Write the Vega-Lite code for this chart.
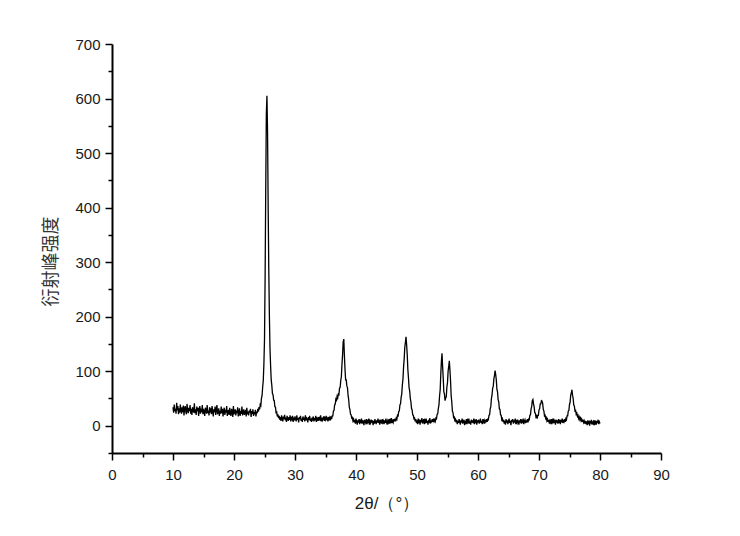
{
"$schema": "https://vega.github.io/schema/vega-lite/v6.json",
"width": 549, "height": 409,
"autosize": {"type": "none"},
"padding": {"left": 112, "top": 44, "right": 79, "bottom": 83},
"background": "white",
"config": {"view": {"stroke": null}, "font": "Liberation Sans"},
"data": {"values": [
{"t":10.0,"i":34},{"t":10.1,"i":24},{"t":10.2,"i":39},{"t":10.3,"i":27},{"t":10.4,"i":31},{"t":10.5,"i":22},{"t":10.6,"i":42},{"t":10.7,"i":28},{"t":10.8,"i":36},{"t":10.9,"i":21},
{"t":11.0,"i":32},{"t":11.1,"i":24},{"t":11.2,"i":39},{"t":11.3,"i":28},{"t":11.4,"i":22},{"t":11.5,"i":34},{"t":11.6,"i":25},{"t":11.7,"i":37},{"t":11.8,"i":19},{"t":11.9,"i":31},
{"t":12.0,"i":36},{"t":12.1,"i":26},{"t":12.2,"i":21},{"t":12.3,"i":40},{"t":12.4,"i":29},{"t":12.5,"i":23},{"t":12.6,"i":33},{"t":12.7,"i":27},{"t":12.8,"i":38},{"t":12.9,"i":22},
{"t":13.0,"i":31},{"t":13.1,"i":20},{"t":13.2,"i":34},{"t":13.3,"i":29},{"t":13.4,"i":24},{"t":13.5,"i":41},{"t":13.6,"i":23},{"t":13.7,"i":30},{"t":13.8,"i":20},{"t":13.9,"i":35},
{"t":14.0,"i":27},{"t":14.1,"i":33},{"t":14.2,"i":18},{"t":14.3,"i":31},{"t":14.4,"i":36},{"t":14.5,"i":22},{"t":14.6,"i":28},{"t":14.7,"i":25},{"t":14.8,"i":38},{"t":14.9,"i":21},
{"t":15.0,"i":31},{"t":15.1,"i":25},{"t":15.2,"i":18},{"t":15.3,"i":33},{"t":15.4,"i":29},{"t":15.5,"i":22},{"t":15.6,"i":38},{"t":15.7,"i":23},{"t":15.8,"i":28},{"t":15.9,"i":19},
{"t":16.0,"i":34},{"t":16.1,"i":24},{"t":16.2,"i":32},{"t":16.3,"i":21},{"t":16.4,"i":36},{"t":16.5,"i":27},{"t":16.6,"i":17},{"t":16.7,"i":30},{"t":16.8,"i":25},{"t":16.9,"i":35},
{"t":17.0,"i":20},{"t":17.1,"i":30},{"t":17.2,"i":38},{"t":17.3,"i":21},{"t":17.4,"i":25},{"t":17.5,"i":32},{"t":17.6,"i":18},{"t":17.7,"i":28},{"t":17.8,"i":22},{"t":17.9,"i":35},
{"t":18.0,"i":23},{"t":18.1,"i":31},{"t":18.2,"i":17},{"t":18.3,"i":27},{"t":18.4,"i":33},{"t":18.5,"i":20},{"t":18.6,"i":29},{"t":18.7,"i":24},{"t":18.8,"i":36},{"t":18.9,"i":18},
{"t":19.0,"i":26},{"t":19.1,"i":29},{"t":19.2,"i":20},{"t":19.3,"i":33},{"t":19.4,"i":22},{"t":19.5,"i":18},{"t":19.6,"i":31},{"t":19.7,"i":27},{"t":19.8,"i":16},{"t":19.9,"i":36},
{"t":20.0,"i":21},{"t":20.1,"i":26},{"t":20.2,"i":30},{"t":20.3,"i":19},{"t":20.4,"i":28},{"t":20.5,"i":23},{"t":20.6,"i":34},{"t":20.7,"i":17},{"t":20.8,"i":24},{"t":20.9,"i":32},
{"t":21.0,"i":18},{"t":21.1,"i":27},{"t":21.2,"i":22},{"t":21.3,"i":35},{"t":21.4,"i":19},{"t":21.5,"i":25},{"t":21.6,"i":30},{"t":21.7,"i":20},{"t":21.8,"i":23},{"t":21.9,"i":29},
{"t":22.0,"i":17},{"t":22.1,"i":33},{"t":22.2,"i":21},{"t":22.3,"i":26},{"t":22.4,"i":19},{"t":22.5,"i":28},{"t":22.6,"i":24},{"t":22.7,"i":31},{"t":22.8,"i":16},{"t":22.9,"i":27},
{"t":23.0,"i":22},{"t":23.1,"i":30},{"t":23.2,"i":18},{"t":23.3,"i":25},{"t":23.4,"i":21},{"t":23.5,"i":29},{"t":23.6,"i":17},{"t":23.7,"i":26},{"t":23.8,"i":23},{"t":23.9,"i":31},
{"t":24.0,"i":26},{"t":24.1,"i":34},{"t":24.2,"i":30},{"t":24.3,"i":39},{"t":24.4,"i":37},{"t":24.5,"i":50},{"t":24.6,"i":55},{"t":24.7,"i":71},{"t":24.8,"i":83},{"t":24.9,"i":113},
{"t":25.0,"i":158},{"t":25.1,"i":272},{"t":25.2,"i":428},{"t":25.3,"i":572},{"t":25.4,"i":605},{"t":25.5,"i":538},{"t":25.6,"i":402},{"t":25.7,"i":288},{"t":25.8,"i":203},{"t":25.9,"i":142},
{"t":26.0,"i":110},{"t":26.1,"i":84},{"t":26.2,"i":74},{"t":26.3,"i":59},{"t":26.4,"i":57},{"t":26.5,"i":47},{"t":26.6,"i":46},{"t":26.7,"i":35},{"t":26.8,"i":34},{"t":26.9,"i":24},
{"t":27.0,"i":25},{"t":27.1,"i":17},{"t":27.2,"i":21},{"t":27.3,"i":14},{"t":27.4,"i":18},{"t":27.5,"i":11},{"t":27.6,"i":16},{"t":27.7,"i":9},{"t":27.8,"i":19},{"t":27.9,"i":13},
{"t":28.0,"i":8},{"t":28.1,"i":17},{"t":28.2,"i":12},{"t":28.3,"i":20},{"t":28.4,"i":10},{"t":28.5,"i":15},{"t":28.6,"i":7},{"t":28.7,"i":18},{"t":28.8,"i":13},{"t":28.9,"i":9},
{"t":29.0,"i":16},{"t":29.1,"i":11},{"t":29.2,"i":19},{"t":29.3,"i":8},{"t":29.4,"i":14},{"t":29.5,"i":12},{"t":29.6,"i":18},{"t":29.7,"i":7},{"t":29.8,"i":15},{"t":29.9,"i":10},
{"t":30.0,"i":17},{"t":30.1,"i":12},{"t":30.2,"i":8},{"t":30.3,"i":19},{"t":30.4,"i":11},{"t":30.5,"i":14},{"t":30.6,"i":6},{"t":30.7,"i":16},{"t":30.8,"i":12},{"t":30.9,"i":18},
{"t":31.0,"i":9},{"t":31.1,"i":13},{"t":31.2,"i":7},{"t":31.3,"i":17},{"t":31.4,"i":11},{"t":31.5,"i":15},{"t":31.6,"i":8},{"t":31.7,"i":19},{"t":31.8,"i":10},{"t":31.9,"i":14},
{"t":32.0,"i":12},{"t":32.1,"i":6},{"t":32.2,"i":16},{"t":32.3,"i":11},{"t":32.4,"i":18},{"t":32.5,"i":9},{"t":32.6,"i":13},{"t":32.7,"i":7},{"t":32.8,"i":15},{"t":32.9,"i":12},
{"t":33.0,"i":17},{"t":33.1,"i":8},{"t":33.2,"i":14},{"t":33.3,"i":10},{"t":33.4,"i":18},{"t":33.5,"i":7},{"t":33.6,"i":13},{"t":33.7,"i":11},{"t":33.8,"i":16},{"t":33.9,"i":9},
{"t":34.0,"i":14},{"t":34.1,"i":12},{"t":34.2,"i":19},{"t":34.3,"i":8},{"t":34.4,"i":15},{"t":34.5,"i":10},{"t":34.6,"i":13},{"t":34.7,"i":17},{"t":34.8,"i":9},{"t":34.9,"i":14},
{"t":35.0,"i":11},{"t":35.1,"i":18},{"t":35.2,"i":10},{"t":35.3,"i":13},{"t":35.4,"i":8},{"t":35.5,"i":16},{"t":35.6,"i":12},{"t":35.7,"i":15},{"t":35.8,"i":10},{"t":35.9,"i":17},
{"t":36.0,"i":12},{"t":36.1,"i":18},{"t":36.2,"i":18},{"t":36.3,"i":27},{"t":36.4,"i":28},{"t":36.5,"i":38},{"t":36.6,"i":40},{"t":36.7,"i":49},{"t":36.8,"i":47},{"t":36.9,"i":54},
{"t":37.0,"i":51},{"t":37.1,"i":58},{"t":37.2,"i":57},{"t":37.3,"i":69},{"t":37.4,"i":70},{"t":37.5,"i":83},{"t":37.6,"i":90},{"t":37.7,"i":113},{"t":37.8,"i":130},{"t":37.9,"i":154},
{"t":38.0,"i":159},{"t":38.1,"i":128},{"t":38.2,"i":103},{"t":38.3,"i":84},{"t":38.4,"i":84},{"t":38.5,"i":73},{"t":38.6,"i":70},{"t":38.7,"i":56},{"t":38.8,"i":48},{"t":38.9,"i":34},
{"t":39.0,"i":30},{"t":39.1,"i":21},{"t":39.2,"i":20},{"t":39.3,"i":14},{"t":39.4,"i":15},{"t":39.5,"i":9},{"t":39.6,"i":12},{"t":39.7,"i":6},{"t":39.8,"i":11},{"t":39.9,"i":4},
{"t":40.0,"i":13},{"t":40.1,"i":8},{"t":40.2,"i":2},{"t":40.3,"i":10},{"t":40.4,"i":6},{"t":40.5,"i":12},{"t":40.6,"i":3},{"t":40.7,"i":9},{"t":40.8,"i":7},{"t":40.9,"i":13},
{"t":41.0,"i":4},{"t":41.1,"i":10},{"t":41.2,"i":6},{"t":41.3,"i":1},{"t":41.4,"i":11},{"t":41.5,"i":8},{"t":41.6,"i":5},{"t":41.7,"i":12},{"t":41.8,"i":3},{"t":41.9,"i":9},
{"t":42.0,"i":7},{"t":42.1,"i":13},{"t":42.2,"i":2},{"t":42.3,"i":8},{"t":42.4,"i":5},{"t":42.5,"i":11},{"t":42.6,"i":6},{"t":42.7,"i":10},{"t":42.8,"i":1},{"t":42.9,"i":9},
{"t":43.0,"i":4},{"t":43.1,"i":12},{"t":43.2,"i":7},{"t":43.3,"i":3},{"t":43.4,"i":10},{"t":43.5,"i":6},{"t":43.6,"i":13},{"t":43.7,"i":5},{"t":43.8,"i":8},{"t":43.9,"i":2},
{"t":44.0,"i":11},{"t":44.1,"i":7},{"t":44.2,"i":4},{"t":44.3,"i":12},{"t":44.4,"i":6},{"t":44.5,"i":9},{"t":44.6,"i":3},{"t":44.7,"i":10},{"t":44.8,"i":5},{"t":44.9,"i":13},
{"t":45.0,"i":7},{"t":45.1,"i":2},{"t":45.2,"i":9},{"t":45.3,"i":6},{"t":45.4,"i":12},{"t":45.5,"i":4},{"t":45.6,"i":10},{"t":45.7,"i":7},{"t":45.8,"i":14},{"t":45.9,"i":5},
{"t":46.0,"i":9},{"t":46.1,"i":6},{"t":46.2,"i":12},{"t":46.3,"i":8},{"t":46.4,"i":13},{"t":46.5,"i":8},{"t":46.6,"i":14},{"t":46.7,"i":12},{"t":46.8,"i":19},{"t":46.9,"i":18},
{"t":47.0,"i":26},{"t":47.1,"i":27},{"t":47.2,"i":38},{"t":47.3,"i":40},{"t":47.4,"i":52},{"t":47.5,"i":58},{"t":47.6,"i":75},{"t":47.7,"i":86},{"t":47.8,"i":108},{"t":47.9,"i":123},
{"t":48.0,"i":144},{"t":48.1,"i":153},{"t":48.2,"i":163},{"t":48.3,"i":148},{"t":48.4,"i":130},{"t":48.5,"i":103},{"t":48.6,"i":88},{"t":48.7,"i":70},{"t":48.8,"i":64},{"t":48.9,"i":50},
{"t":49.0,"i":44},{"t":49.1,"i":32},{"t":49.2,"i":29},{"t":49.3,"i":20},{"t":49.4,"i":19},{"t":49.5,"i":13},{"t":49.6,"i":14},{"t":49.7,"i":8},{"t":49.8,"i":12},{"t":49.9,"i":5},
{"t":50.0,"i":10},{"t":50.1,"i":3},{"t":50.2,"i":13},{"t":50.3,"i":7},{"t":50.4,"i":9},{"t":50.5,"i":2},{"t":50.6,"i":11},{"t":50.7,"i":6},{"t":50.8,"i":14},{"t":50.9,"i":4},
{"t":51.0,"i":8},{"t":51.1,"i":12},{"t":51.2,"i":3},{"t":51.3,"i":10},{"t":51.4,"i":7},{"t":51.5,"i":13},{"t":51.6,"i":5},{"t":51.7,"i":9},{"t":51.8,"i":2},{"t":51.9,"i":11},
{"t":52.0,"i":8},{"t":52.1,"i":14},{"t":52.2,"i":4},{"t":52.3,"i":10},{"t":52.4,"i":6},{"t":52.5,"i":12},{"t":52.6,"i":7},{"t":52.7,"i":13},{"t":52.8,"i":8},{"t":52.9,"i":11},
{"t":53.0,"i":8},{"t":53.1,"i":14},{"t":53.2,"i":13},{"t":53.3,"i":21},{"t":53.4,"i":22},{"t":53.5,"i":32},{"t":53.6,"i":38},{"t":53.7,"i":55},{"t":53.8,"i":66},{"t":53.9,"i":95},
{"t":54.0,"i":118},{"t":54.1,"i":133},{"t":54.2,"i":108},{"t":54.3,"i":87},{"t":54.4,"i":62},{"t":54.5,"i":58},{"t":54.6,"i":46},{"t":54.7,"i":51},{"t":54.8,"i":53},{"t":54.9,"i":71},
{"t":55.0,"i":79},{"t":55.1,"i":100},{"t":55.2,"i":109},{"t":55.3,"i":119},{"t":55.4,"i":102},{"t":55.5,"i":82},{"t":55.6,"i":55},{"t":55.7,"i":44},{"t":55.8,"i":27},{"t":55.9,"i":24},
{"t":56.0,"i":15},{"t":56.1,"i":16},{"t":56.2,"i":10},{"t":56.3,"i":12},{"t":56.4,"i":6},{"t":56.5,"i":11},{"t":56.6,"i":3},{"t":56.7,"i":9},{"t":56.8,"i":5},{"t":56.9,"i":12},
{"t":57.0,"i":7},{"t":57.1,"i":2},{"t":57.2,"i":10},{"t":57.3,"i":6},{"t":57.4,"i":13},{"t":57.5,"i":4},{"t":57.6,"i":8},{"t":57.7,"i":11},{"t":57.8,"i":1},{"t":57.9,"i":9},
{"t":58.0,"i":6},{"t":58.1,"i":12},{"t":58.2,"i":3},{"t":58.3,"i":10},{"t":58.4,"i":7},{"t":58.5,"i":13},{"t":58.6,"i":4},{"t":58.7,"i":8},{"t":58.8,"i":2},{"t":58.9,"i":11},
{"t":59.0,"i":6},{"t":59.1,"i":10},{"t":59.2,"i":5},{"t":59.3,"i":13},{"t":59.4,"i":3},{"t":59.5,"i":9},{"t":59.6,"i":7},{"t":59.7,"i":12},{"t":59.8,"i":2},{"t":59.9,"i":10},
{"t":60.0,"i":6},{"t":60.1,"i":11},{"t":60.2,"i":4},{"t":60.3,"i":8},{"t":60.4,"i":13},{"t":60.5,"i":5},{"t":60.6,"i":9},{"t":60.7,"i":3},{"t":60.8,"i":12},{"t":60.9,"i":7},
{"t":61.0,"i":10},{"t":61.1,"i":4},{"t":61.2,"i":11},{"t":61.3,"i":6},{"t":61.4,"i":12},{"t":61.5,"i":7},{"t":61.6,"i":12},{"t":61.7,"i":11},{"t":61.8,"i":19},{"t":61.9,"i":20},
{"t":62.0,"i":31},{"t":62.1,"i":35},{"t":62.2,"i":50},{"t":62.3,"i":56},{"t":62.4,"i":69},{"t":62.5,"i":72},{"t":62.6,"i":86},{"t":62.7,"i":92},{"t":62.8,"i":101},{"t":62.9,"i":94},
{"t":63.0,"i":84},{"t":63.1,"i":67},{"t":63.2,"i":62},{"t":63.3,"i":48},{"t":63.4,"i":44},{"t":63.5,"i":31},{"t":63.6,"i":30},{"t":63.7,"i":20},{"t":63.8,"i":19},{"t":63.9,"i":11},
{"t":64.0,"i":13},{"t":64.1,"i":7},{"t":64.2,"i":11},{"t":64.3,"i":4},{"t":64.4,"i":9},{"t":64.5,"i":2},{"t":64.6,"i":12},{"t":64.7,"i":6},{"t":64.8,"i":10},{"t":64.9,"i":3},
{"t":65.0,"i":8},{"t":65.1,"i":13},{"t":65.2,"i":5},{"t":65.3,"i":9},{"t":65.4,"i":1},{"t":65.5,"i":11},{"t":65.6,"i":7},{"t":65.7,"i":12},{"t":65.8,"i":4},{"t":65.9,"i":10},
{"t":66.0,"i":6},{"t":66.1,"i":13},{"t":66.2,"i":3},{"t":66.3,"i":8},{"t":66.4,"i":5},{"t":66.5,"i":11},{"t":66.6,"i":7},{"t":66.7,"i":2},{"t":66.8,"i":10},{"t":66.9,"i":6},
{"t":67.0,"i":12},{"t":67.1,"i":4},{"t":67.2,"i":9},{"t":67.3,"i":7},{"t":67.4,"i":13},{"t":67.5,"i":3},{"t":67.6,"i":8},{"t":67.7,"i":11},{"t":67.8,"i":5},{"t":67.9,"i":10},
{"t":68.0,"i":6},{"t":68.1,"i":12},{"t":68.2,"i":6},{"t":68.3,"i":12},{"t":68.4,"i":11},{"t":68.5,"i":19},{"t":68.6,"i":20},{"t":68.7,"i":31},{"t":68.8,"i":35},{"t":68.9,"i":46},
{"t":69.0,"i":48},{"t":69.1,"i":40},{"t":69.2,"i":35},{"t":69.3,"i":24},{"t":69.4,"i":23},{"t":69.5,"i":16},{"t":69.6,"i":18},{"t":69.7,"i":13},{"t":69.8,"i":19},{"t":69.9,"i":19},
{"t":70.0,"i":29},{"t":70.1,"i":31},{"t":70.2,"i":40},{"t":70.3,"i":40},{"t":70.4,"i":46},{"t":70.5,"i":45},{"t":70.6,"i":41},{"t":70.7,"i":30},{"t":70.8,"i":27},{"t":70.9,"i":18},
{"t":71.0,"i":19},{"t":71.1,"i":13},{"t":71.2,"i":15},{"t":71.3,"i":9},{"t":71.4,"i":12},{"t":71.5,"i":7},{"t":71.6,"i":11},{"t":71.7,"i":4},{"t":71.8,"i":9},{"t":71.9,"i":6},
{"t":72.0,"i":12},{"t":72.1,"i":3},{"t":72.2,"i":10},{"t":72.3,"i":7},{"t":72.4,"i":13},{"t":72.5,"i":5},{"t":72.6,"i":8},{"t":72.7,"i":2},{"t":72.8,"i":11},{"t":72.9,"i":6},
{"t":73.0,"i":10},{"t":73.1,"i":4},{"t":73.2,"i":12},{"t":73.3,"i":7},{"t":73.4,"i":9},{"t":73.5,"i":3},{"t":73.6,"i":11},{"t":73.7,"i":6},{"t":73.8,"i":13},{"t":73.9,"i":5},
{"t":74.0,"i":9},{"t":74.1,"i":7},{"t":74.2,"i":12},{"t":74.3,"i":7},{"t":74.4,"i":13},{"t":74.5,"i":11},{"t":74.6,"i":18},{"t":74.7,"i":18},{"t":74.8,"i":27},{"t":74.9,"i":28},
{"t":75.0,"i":39},{"t":75.1,"i":43},{"t":75.2,"i":56},{"t":75.3,"i":60},{"t":75.4,"i":66},{"t":75.5,"i":56},{"t":75.6,"i":50},{"t":75.7,"i":38},{"t":75.8,"i":36},{"t":75.9,"i":27},
{"t":76.0,"i":28},{"t":76.1,"i":21},{"t":76.2,"i":23},{"t":76.3,"i":17},{"t":76.4,"i":19},{"t":76.5,"i":13},{"t":76.6,"i":16},{"t":76.7,"i":11},{"t":76.8,"i":14},{"t":76.9,"i":9},
{"t":77.0,"i":12},{"t":77.1,"i":7},{"t":77.2,"i":11},{"t":77.3,"i":6},{"t":77.4,"i":9},{"t":77.5,"i":4},{"t":77.6,"i":9},{"t":77.7,"i":3},{"t":77.8,"i":8},{"t":77.9,"i":1},
{"t":78.0,"i":10},{"t":78.1,"i":5},{"t":78.2,"i":7},{"t":78.3,"i":0},{"t":78.4,"i":9},{"t":78.5,"i":4},{"t":78.6,"i":11},{"t":78.7,"i":2},{"t":78.8,"i":6},{"t":78.9,"i":8},
{"t":79.0,"i":1},{"t":79.1,"i":10},{"t":79.2,"i":4},{"t":79.3,"i":7},{"t":79.4,"i":2},{"t":79.5,"i":9},{"t":79.6,"i":5},{"t":79.7,"i":11},{"t":79.8,"i":3},{"t":79.9,"i":7},
{"t":80.0,"i":4}
]},
"mark": {"type": "line", "color": "black", "strokeWidth": 1.3, "clip": true},
"encoding": {
  "x": {"field": "t", "type": "quantitative",
    "scale": {"domain": [0, 90], "nice": false, "zero": false},
    "axis": {"title": "2θ/（°）", "values": [0,5,10,15,20,25,30,35,40,45,50,55,60,65,70,75,80,85,90],
      "labelExpr": "datum.value % 10 === 0 ? datum.label : ''",
      "grid": false, "domainColor": "black", "domainWidth": 2, "tickColor": "black", "tickWidth": 1.5,
      "tickSize": {"condition": {"test": "datum.value % 10 === 0", "value": 7}, "value": 4},
      "labelFont": "Liberation Sans", "labelFontSize": 15, "labelColor": "#1a1a1a", "labelPadding": 7,
      "labelFlush": false, "labelOverlap": false,
      "titleFont": "Liberation Sans", "titleFontSize": 17, "titleFontWeight": "normal", "titleColor": "#1a1a1a",
      "titleY": 50, "titleBaseline": "middle"}},
  "y": {"field": "i", "type": "quantitative",
    "scale": {"domain": [-50, 700], "nice": false, "zero": false},
    "axis": {"title": "衍射峰强度", "values": [-50,0,50,100,150,200,250,300,350,400,450,500,550,600,650,700],
      "labelExpr": "datum.value % 100 === 0 ? datum.label : ''",
      "grid": false, "domainColor": "black", "domainWidth": 2, "tickColor": "black", "tickWidth": 1.5,
      "tickSize": {"condition": {"test": "datum.value % 100 === 0", "value": 7}, "value": 4},
      "labelFont": "Liberation Sans", "labelFontSize": 15, "labelColor": "#1a1a1a", "labelPadding": 5,
      "labelFlush": false, "labelOverlap": false,
      "titleFont": "Noto Sans CJK SC", "titleFontSize": 18, "titleFontWeight": "normal", "titleColor": "#333333",
      "titleX": -61, "titleY": 217, "titleAngle": -90, "titleAlign": "center", "titleBaseline": "middle"}}
}
}
